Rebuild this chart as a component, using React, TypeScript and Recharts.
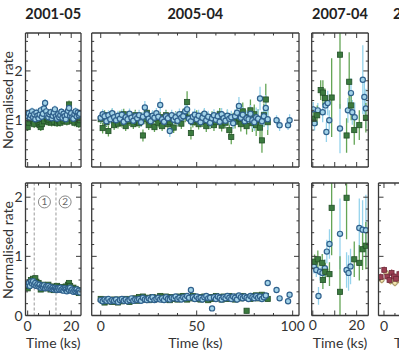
import React from "react";
import {
  ScatterChart,
  Scatter,
  XAxis,
  YAxis,
  ErrorBar,
  ReferenceLine,
  ReferenceDot,
} from "recharts";

// ---- titles / tick values ----
const titles = ["2001-05", "2005-04", "2007-04", "2008-10"];
const topYTicks = [0.2, 0.4, 0.6, 0.8, 1, 1.2, 1.4, 1.6, 1.8, 2, 2.2, 2.4, 2.6];
const botYTicks = [0, 0.2, 0.4, 0.6, 0.8, 1, 1.2, 1.4, 1.6, 1.8, 2, 2.2];
const yMajors = [0, 1, 2];
const shortXTicks = [0, 5, 10, 15, 20];
const shortXMajors = [0, 10, 20];
const shortXLabels = [0, 20];
const longXTicks = [0, 10, 20, 30, 40, 50, 60, 70, 80, 90, 100];
const longXMajors = [0, 50, 100];

// ---- 2001-05 (0.5 ks bins) ----
const p1Times = [
  0, 0.5, 1, 1.5, 2, 2.5, 3, 3.5, 4, 4.5, 5, 5.5, 6, 6.5, 7, 7.5, 8, 8.5, 9, 9.5, 10, 10.5, 11, 11.5, 12,
  12.5, 13, 13.5, 14, 14.5, 15, 15.5, 16, 16.5, 17, 17.5, 18, 18.5, 19, 19.5, 20, 20.5, 21, 21.5, 22, 22.5, 23, 23.5, 24,
];
const p1TopBlue = [
  1.08, 1.14, 1.05, 1.1, 1.18, 1.06, 1.12, 1.02, 1.15, 1.09, 1.04, 1.11, 1.2, 1.07, 1.13, 1.24, 1.35, 1.18, 1.1, 1.06,
  1.12, 1.16, 1.04, 1.09, 1.15, 1.22, 1.08, 1.03, 1.12, 1.06, 1.1, 1.17, 1.05, 1.13, 1.08, 1.02, 1.11, 1.19, 1.25, 1.09,
  1.14, 1.06, 1.03, 1.12, 1.18, 1.08, 1.15, 1.1, 1.13,
];
const p1TopGreen = [
  0.86, 0.95, 1.02, 1.08, 1.1, 0.98, 0.92, 1.05, 1.12, 1.0, 0.95, 0.9, 0.86, 0.92, 1.05, 0.98, 1.08, 1.15, 1.03, 0.96,
  1.0, 1.08, 0.95, 1.02, 0.97, 1.06, 1.1, 0.94, 1.02, 0.98, 0.95, 1.04, 1.1, 0.99, 1.05, 1.02, 0.97, 1.08, 1.32, 1.12,
  1.04, 0.98, 1.06, 0.95, 1.1, 1.02, 0.96, 0.92, 1.0,
];
const p1BotBlue = [
  0.52, 0.55, 0.5, 0.57, 0.54, 0.58, 0.52, 0.55, 0.5, 0.53, 0.49, 0.52, 0.47, 0.5, 0.48, 0.51, 0.46, 0.49, 0.47, 0.5,
  0.46, 0.48, 0.45, 0.47, 0.44, 0.47, 0.45, 0.43, 0.46, 0.44, 0.47, 0.43, 0.45, 0.42, 0.46, 0.44, 0.41, 0.45, 0.43, 0.47,
  0.42, 0.44, 0.4, 0.43, 0.41, 0.44, 0.4, 0.42, 0.39,
];
const p1BotGreen = [
  0.46, 0.5, 0.56, 0.6, 0.55, 0.62, 0.58, 0.63, 0.57, 0.53, 0.55, 0.5, 0.44, 0.48, 0.52, 0.47, 0.5, 0.46, 0.49, 0.52,
  0.47, 0.44, 0.49, 0.46, 0.43, 0.48, 0.45, 0.5, 0.44, 0.47, 0.45, 0.48, 0.43, 0.46, 0.44, 0.49, 0.47, 0.52, 0.55, 0.5,
  0.46, 0.43, 0.47, 0.42, 0.45, 0.4, 0.43, 0.38, 0.41,
];
const p1TopErr = 0.08;
const p1BotErr = 0.035;

// ---- 2005-04 (1 ks bins) ----
const p2Times = [
  0, 1, 2, 3, 4, 5, 6, 7, 8, 9, 10, 11, 12, 13, 14, 15, 16, 17, 18, 19, 20, 21, 22, 23, 24, 25, 26, 27, 28, 29,
  30, 31, 32, 33, 34, 35, 36, 37, 38, 39, 40, 41, 42, 43, 44, 45, 46, 47, 48, 49, 50, 51, 52, 53, 54, 55, 56, 57, 58, 59,
  60, 61, 62, 63, 64, 65, 66, 67, 68, 69, 70, 71, 72, 73, 74, 75, 76, 77, 78, 79, 80, 81, 82, 83, 84, 85, 86, 87,
];
const p2TopBlue = [
  1.05, 1.12, 1.08, 0.98, 1.1, 1.02, 1.14, 1.06, 1.0, 1.09, 1.03, 1.11, 0.97, 1.06, 1.02, 1.13, 1.05, 0.99, 1.08, 1.04,
  1.1, 0.96, 1.07, 1.26, 1.12, 1.03, 0.98, 1.09, 1.05, 1.14, 1.07, 1.31, 1.02, 0.97, 1.08, 1.04, 0.78, 1.1, 1.01, 1.06,
  0.99, 1.12, 1.05, 1.08, 1.18, 1.22, 1.03, 0.98, 1.07, 1.11, 1.02, 1.09, 0.96, 1.05, 1.13, 1.0, 1.07, 0.95, 1.04, 1.1,
  1.01, 1.08, 0.97, 1.12, 1.04, 0.99, 1.09, 1.03, 1.06, 0.94, 1.08, 1.15, 1.29, 1.05, 1.11, 0.98, 1.04, 1.02, 1.13, 1.0,
  0.96, 1.06, 1.03, 1.44, 0.98, 1.08, 1.25, 1.02,
];
const p2TopGreen = [
  1.02, 0.84, 1.1, 0.96, 0.78, 1.05, 1.12, 0.9, 1.0, 0.93, 1.08, 0.95, 1.12, 0.88, 1.04, 0.98, 1.06, 0.92, 1.1, 0.97,
  0.94, 1.05, 0.69, 1.02, 1.15, 0.9, 0.98, 1.08, 0.86, 1.03, 0.95, 1.06, 0.88, 1.0, 1.1, 0.92, 0.96, 1.04, 0.85, 1.07,
  0.98, 1.02, 0.93, 1.12, 1.08, 1.37, 1.05, 0.74, 0.96, 1.0, 1.08, 0.92, 1.03, 0.97, 1.1, 0.88, 1.02, 0.94, 1.06, 0.9,
  0.96, 1.04, 1.12, 0.89, 1.0, 0.95, 1.08, 0.8, 0.66, 1.02, 0.97, 1.1, 1.04, 0.92, 1.18, 0.98, 0.88, 1.06, 1.2, 0.94,
  1.12, 0.9, 1.0, 0.85, 0.59, 1.1, 1.42, 0.96,
];
const p2TopBlueErr = [
  0.1, 0.1, 0.09, 0.1, 0.1, 0.09, 0.11, 0.1, 0.1, 0.1, 0.1, 0.11, 0.1, 0.1, 0.09, 0.11, 0.1, 0.1, 0.1, 0.1,
  0.11, 0.1, 0.1, 0.13, 0.11, 0.1, 0.1, 0.11, 0.1, 0.11, 0.1, 0.14, 0.1, 0.1, 0.11, 0.1, 0.12, 0.11, 0.1, 0.11,
  0.1, 0.12, 0.11, 0.11, 0.13, 0.14, 0.11, 0.1, 0.11, 0.12, 0.11, 0.12, 0.11, 0.11, 0.12, 0.11, 0.12, 0.11, 0.12, 0.12,
  0.12, 0.12, 0.11, 0.13, 0.12, 0.12, 0.13, 0.12, 0.13, 0.12, 0.14, 0.15, 0.18, 0.14, 0.16, 0.15, 0.16, 0.15, 0.18, 0.17,
  0.18, 0.2, 0.19, 0.24, 0.2, 0.22, 0.26, 0.22,
];
const p2TopGreenErr = [
  0.1, 0.11, 0.1, 0.1, 0.11, 0.1, 0.11, 0.1, 0.1, 0.1, 0.11, 0.1, 0.11, 0.1, 0.1, 0.1, 0.11, 0.1, 0.11, 0.1,
  0.1, 0.11, 0.12, 0.1, 0.12, 0.1, 0.1, 0.11, 0.1, 0.1, 0.1, 0.11, 0.1, 0.1, 0.11, 0.1, 0.1, 0.11, 0.11, 0.11,
  0.11, 0.1, 0.11, 0.12, 0.12, 0.22, 0.12, 0.13, 0.11, 0.11, 0.12, 0.11, 0.12, 0.11, 0.12, 0.12, 0.11, 0.12, 0.12, 0.12,
  0.12, 0.12, 0.13, 0.12, 0.12, 0.12, 0.13, 0.14, 0.15, 0.13, 0.14, 0.15, 0.15, 0.15, 0.18, 0.16, 0.17, 0.18, 0.22, 0.18,
  0.2, 0.22, 0.22, 0.24, 0.25, 0.24, 0.32, 0.26,
];
const p2BotBlue = [
  0.26, 0.24, 0.27, 0.25, 0.28, 0.24, 0.26, 0.25, 0.27, 0.23, 0.26, 0.28, 0.25, 0.27, 0.24, 0.26, 0.29, 0.25, 0.27, 0.26,
  0.28, 0.25, 0.3, 0.27, 0.26, 0.29, 0.27, 0.31, 0.26, 0.28, 0.3, 0.27, 0.29, 0.26, 0.31, 0.28, 0.27, 0.3, 0.29, 0.32,
  0.28, 0.3, 0.27, 0.31, 0.29, 0.33, 0.3, 0.43, 0.31, 0.28, 0.32, 0.29, 0.3, 0.27, 0.31, 0.33, 0.29, 0.3, 0.12, 0.31,
  0.28, 0.32, 0.3, 0.27, 0.31, 0.29, 0.33, 0.3, 0.28, 0.32, 0.3, 0.27, 0.34, 0.31, 0.29, 0.32, 0.3, 0.28, 0.33, 0.31,
  0.29, 0.33, 0.3, 0.32, 0.28, 0.31, 0.34, 0.55,
];
const p2BotGreen = [
  0.28, 0.25, 0.22, 0.27, 0.24, 0.26, 0.23, 0.27, 0.25, 0.22, 0.27, 0.24, 0.26, 0.28, 0.25, 0.23, 0.27, 0.26, 0.29, 0.25,
  0.31, 0.28, 0.32, 0.27, 0.3, 0.26, 0.29, 0.31, 0.27, 0.3, 0.28, 0.33, 0.3, 0.27, 0.32, 0.29, 0.26, 0.31, 0.28, 0.3,
  0.27, 0.32, 0.29, 0.33, 0.3, 0.27, 0.31, 0.29, 0.33, 0.3, 0.28, 0.31, 0.27, 0.3, 0.32, 0.29, 0.26, 0.31, 0.28, 0.3,
  0.33, 0.29, 0.31, 0.27, 0.32, 0.3, 0.28, 0.33, 0.29, 0.31, 0.27, 0.32, 0.3, 0.29, 0.33, 0.31, 0.08, 0.3, 0.28, 0.33,
  0.3, 0.34, 0.29, 0.32, 0.35, 0.3, 0.33, 0.28,
];
const p2BotBlueErr = 0.035;
const p2BotGreenErr = 0.04;
// the few late bins after the gap
const p2LateTimes = [91.6, 93.2, 97.6, 98.4];
const p2LateTop = [1.0, 0.9, 0.9, 1.0];
const p2LateTopErr = [0.1, 0.12, 0.1, 0.12];
const p2LateBot = [0.43, 0.29, 0.24, 0.35];

// ---- 2007-04 ----
const p3TopGreenT = [0.3, 2.0, 3.6, 4.6, 5.5, 8.6, 12.4, 15.4, 16.6, 17.5, 18.9, 21.2, 24.2];
const p3TopGreenV = [1.03, 1.1, 1.61, 1.56, 1.45, 1.46, 2.33, 0.69, 1.78, 1.3, 0.8, 0.9, 1.05];
const p3TopGreenE = [0.15, 0.2, 0.2, 0.25, 0.2, 0.8, 1.1, 0.35, 0.6, 0.3, 0.3, 0.3, 0.3];
const p3TopBlueT = [0.2, 0.8, 2.3, 4.5, 5.8, 6.2, 6.8, 7.5, 12.4, 16.0, 17.4, 18.0, 19.1, 22.8, 23.5, 24.2];
const p3TopBlueV = [1.22, 0.94, 1.2, 1.16, 1.3, 0.76, 1.35, 1.0, 0.83, 1.2, 1.55, 1.16, 1.06, 1.82, 1.47, 1.24];
const p3TopBlueE = [0.15, 0.15, 0.15, 0.2, 0.2, 0.2, 0.25, 0.2, 0.5, 0.25, 0.3, 0.25, 0.3, 0.7, 0.35, 0.4];
const p3BotGreenT = [0.8, 2.3, 4.3, 4.6, 5.7, 7.6, 8.6, 12.4, 15.4, 18.9, 21.2, 22.7, 24.2];
const p3BotGreenV = [0.91, 0.95, 0.89, 0.6, 0.74, 0.7, 1.82, 0.4, 1.99, 0.95, 0.89, 1.12, 1.18];
const p3BotGreenE = [0.12, 0.15, 0.15, 0.15, 0.15, 0.2, 0.8, 0.6, 0.7, 0.3, 0.3, 0.35, 0.4];
const p3BotBlueT = [0.5, 1.6, 2.6, 3.3, 4.4, 5.5, 6.4, 7.6, 12.4, 15.4, 16.3, 17.2, 21.2, 22.7, 24.2];
const p3BotBlueV = [0.83, 0.77, 0.33, 0.74, 0.72, 0.8, 1.08, 1.21, 1.38, 0.77, 0.72, 0.83, 1.48, 1.45, 1.44];
const p3BotBlueE = [0.12, 0.12, 0.15, 0.15, 0.15, 0.15, 0.2, 0.25, 0.6, 0.3, 0.3, 0.3, 0.5, 0.5, 0.6];

// ---- 2008 (cut off at the right) ----
const p4RedT = [-1.5, 0.1, 1.5, 2.5, 3.5, 4.5, 5.5, 7.0];
const p4RedV = [0.65, 0.77, 0.66, 0.6, 0.72, 0.66, 0.62, 0.7];
const p4PaleT = [-1.0, 1.0, 3.0, 5.0, 6.5];
const p4PaleV = [0.6, 0.72, 0.58, 0.55, 0.6];
const p4Err = 0.06;

type Pt = { t: number; v: number; e: number };
const toPoints = (times: number[], vals: number[], errs: number | number[]): Pt[] =>
  times.map((t, i) => ({ t, v: vals[i], e: Array.isArray(errs) ? errs[i] : errs }));

const FONT = "Lato, 'DejaVu Sans', sans-serif";
const AXIS = "#3a3a3a";
const near = (list: number[], v: number) => list.some((m) => Math.abs(m - v) < 1e-6);

type Side = "bottom" | "top" | "left" | "right";

// inward ticks, matplotlib style
const makeTick = (side: Side, majors: number[], labels: number[]) => (props: any) => {
  const { x, y, payload } = props;
  const v = payload.value;
  const len = near(majors, v) ? 5 : 2.5;
  let line;
  if (side === "bottom") line = <line x1={x} x2={x} y1={y} y2={y - len} />;
  else if (side === "top") line = <line x1={x} x2={x} y1={y} y2={y + len} />;
  else if (side === "left") line = <line x1={x} x2={x + len} y1={y} y2={y} />;
  else line = <line x1={x} x2={x - len} y1={y} y2={y} />;
  const show = near(labels, v);
  return (
    <g stroke={AXIS} strokeWidth={1}>
      {line}
      {show && side === "bottom" && (
        <text x={x} y={y + 15} textAnchor="middle" fontFamily={FONT} fontSize={14} fill="#333" stroke="none">
          {v}
        </text>
      )}
      {show && side === "left" && (
        <text x={x - 3} y={y + 5} textAnchor="end" fontFamily={FONT} fontSize={14} fill="#333" stroke="none">
          {v}
        </text>
      )}
    </g>
  );
};

const blueDot = (p: any) => (
  <circle cx={p.cx} cy={p.cy} r={2.6} fill="#a3d3e8" stroke="#30618d" strokeWidth={1.2} />
);
const greenSquare = (p: any) => (
  <rect x={p.cx - 2.6} y={p.cy - 2.6} width={5.2} height={5.2} fill="#3b7a3e" stroke="#24502a" strokeWidth={0.8} />
);
const redSquare = (p: any) => (
  <rect x={p.cx - 2.4} y={p.cy - 2.4} width={4.8} height={4.8} fill="#9a3e52" stroke="#6e2838" strokeWidth={0.8} />
);
const paleDot = (p: any) => (
  <circle cx={p.cx} cy={p.cy} r={2.4} fill="#f4e6b0" stroke="#8a7a4a" strokeWidth={0.9} />
);

type Series = { data: Pt[]; shape: (p: any) => React.ReactElement; err: string };

type PanelProps = {
  left: number;
  right: number;
  top: number;
  bottom: number;
  xDomain: [number, number];
  yDomain: [number, number];
  xTicks: number[];
  xMajors: number[];
  xLabels: number[];
  yTicks: number[];
  yLabels: number[];
  series: Series[];
  extras?: React.ReactNode;
};

const CH = 352;

function Panel(p: PanelProps) {
  const W = p.right + 30;
  const margin = { left: p.left - 1, top: p.top - 1, right: W - p.right - 1, bottom: CH - p.bottom - 1 };
  const axes = (withTicks: boolean) => {
    const line = withTicks ? { stroke: AXIS, strokeWidth: 1.3 } : false;
    return [
      <XAxis
        key="xb"
        type="number"
        dataKey="t"
        domain={p.xDomain}
        allowDataOverflow
        ticks={p.xTicks}
        interval={0}
        height={1}
        tickSize={0}
        tickMargin={0}
        tickLine={false}
        axisLine={line}
        tick={withTicks ? makeTick("bottom", p.xMajors, p.xLabels) : false}
      />,
      <XAxis
        key="xt"
        xAxisId="top"
        orientation="top"
        type="number"
        dataKey="t"
        domain={p.xDomain}
        allowDataOverflow
        ticks={p.xTicks}
        interval={0}
        height={1}
        tickSize={0}
        tickMargin={0}
        tickLine={false}
        axisLine={line}
        tick={withTicks ? makeTick("top", p.xMajors, []) : false}
      />,
      <YAxis
        key="yl"
        type="number"
        dataKey="v"
        domain={p.yDomain}
        allowDataOverflow
        ticks={p.yTicks}
        interval={0}
        width={1}
        tickSize={0}
        tickMargin={0}
        tickLine={false}
        axisLine={line}
        tick={withTicks ? makeTick("left", yMajors, p.yLabels) : false}
      />,
      <YAxis
        key="yr"
        yAxisId="right"
        orientation="right"
        type="number"
        dataKey="v"
        domain={p.yDomain}
        allowDataOverflow
        ticks={p.yTicks}
        interval={0}
        width={1}
        tickSize={0}
        tickMargin={0}
        tickLine={false}
        axisLine={line}
        tick={withTicks ? makeTick("right", yMajors, []) : false}
      />,
    ];
  };
  const clip = `inset(${p.top}px ${W - p.right}px ${CH - p.bottom}px ${p.left}px)`;
  return (
    <>
      {/* data layer, clipped to the frame like matplotlib does */}
      <div style={{ position: "absolute", left: 0, top: 0, clipPath: clip }}>
        <ScatterChart width={W} height={CH} margin={margin}>
          {axes(false)}
          {p.extras}
          {p.series.map((s, i) => (
            <Scatter key={i} data={s.data} shape={s.shape} isAnimationActive={false}>
              <ErrorBar dataKey="e" direction="y" width={0} stroke={s.err} strokeWidth={1.3} />
            </Scatter>
          ))}
        </ScatterChart>
      </div>
      {/* frame and ticks */}
      <div style={{ position: "absolute", left: 0, top: 0 }}>
        <ScatterChart width={W} height={CH} margin={margin}>
          {axes(true)}
        </ScatterChart>
      </div>
    </>
  );
}

const GREEN_ERR = "#64a556";
const BLUE_ERR = "#96d3ec";

const ROW1 = { top: 33, bottom: 167 };
const ROW2 = { top: 183, bottom: 315.5 };
const COLS = [
  { left: 25.5, right: 81 },
  { left: 91.7, right: 299 },
  { left: 311.7, right: 368.3 },
  { left: 378.5, right: 464 },
];

const labelStyle: React.CSSProperties = {
  position: "absolute",
  fontFamily: FONT,
  fontSize: 14,
  color: "#333",
  whiteSpace: "nowrap",
  transform: "translateX(-50%)",
};

export default function App() {
  const topDomain: [number, number] = [0.05, 2.77];
  const botDomain: [number, number] = [0, 2.24];
  return (
    <div
      style={{
        position: "absolute",
        left: 0,
        top: 0,
        width: 399,
        height: 352,
        overflow: "hidden",
        background: "#fff",
      }}
    >
      {/* top row */}
      <Panel
        {...COLS[0]}
        {...ROW1}
        xDomain={[-1, 24.5]}
        yDomain={topDomain}
        xTicks={shortXTicks}
        xMajors={shortXMajors}
        xLabels={[]}
        yTicks={topYTicks}
        yLabels={[1, 2]}
        series={[
          { data: toPoints(p1Times, p1TopGreen, p1TopErr), shape: greenSquare, err: GREEN_ERR },
          { data: toPoints(p1Times, p1TopBlue, p1TopErr), shape: blueDot, err: BLUE_ERR },
        ]}
      />
      <Panel
        {...COLS[1]}
        {...ROW1}
        xDomain={[-4.7, 103.3]}
        yDomain={topDomain}
        xTicks={longXTicks}
        xMajors={longXMajors}
        xLabels={[]}
        yTicks={topYTicks}
        yLabels={[]}
        series={[
          { data: toPoints(p2Times, p2TopGreen, p2TopGreenErr), shape: greenSquare, err: GREEN_ERR },
          { data: toPoints(p2Times, p2TopBlue, p2TopBlueErr), shape: blueDot, err: BLUE_ERR },
          { data: toPoints(p2LateTimes, p2LateTop, p2LateTopErr), shape: blueDot, err: BLUE_ERR },
        ]}
      />
      <Panel
        {...COLS[2]}
        {...ROW1}
        xDomain={[-0.5, 25.3]}
        yDomain={topDomain}
        xTicks={shortXTicks}
        xMajors={shortXMajors}
        xLabels={[]}
        yTicks={topYTicks}
        yLabels={[]}
        series={[
          { data: toPoints(p3TopBlueT, p3TopBlueV, p3TopBlueE), shape: blueDot, err: BLUE_ERR },
          { data: toPoints(p3TopGreenT, p3TopGreenV, p3TopGreenE), shape: greenSquare, err: GREEN_ERR },
        ]}
      />

      {/* bottom row */}
      <Panel
        {...COLS[0]}
        {...ROW2}
        xDomain={[-1, 24.5]}
        yDomain={botDomain}
        xTicks={shortXTicks}
        xMajors={shortXMajors}
        xLabels={shortXLabels}
        yTicks={botYTicks}
        yLabels={[0, 1, 2]}
        extras={[
          <ReferenceLine key="a" x={3} stroke="#9a9a9a" strokeDasharray="3 2" />,
          <ReferenceLine key="b" x={13} stroke="#9a9a9a" strokeDasharray="3 2" />,
          <ReferenceDot key="c" x={7.7} y={1.92} r={6} fill="#fff" stroke="#888" label={{ value: "1", position: "center", fontSize: 10, fill: "#666", fontFamily: FONT }} />,
          <ReferenceDot key="d" x={17.2} y={1.92} r={6} fill="#fff" stroke="#888" label={{ value: "2", position: "center", fontSize: 10, fill: "#666", fontFamily: FONT }} />,
        ]}
        series={[
          { data: toPoints(p1Times, p1BotGreen, p1BotErr), shape: greenSquare, err: GREEN_ERR },
          { data: toPoints(p1Times, p1BotBlue, p1BotErr), shape: blueDot, err: BLUE_ERR },
        ]}
      />
      <Panel
        {...COLS[1]}
        {...ROW2}
        xDomain={[-4.7, 103.3]}
        yDomain={botDomain}
        xTicks={longXTicks}
        xMajors={longXMajors}
        xLabels={longXMajors}
        yTicks={botYTicks}
        yLabels={[]}
        series={[
          { data: toPoints(p2Times, p2BotGreen, p2BotGreenErr), shape: greenSquare, err: GREEN_ERR },
          { data: toPoints(p2Times, p2BotBlue, p2BotBlueErr), shape: blueDot, err: BLUE_ERR },
          { data: toPoints(p2LateTimes, p2LateBot, p2BotBlueErr), shape: blueDot, err: BLUE_ERR },
        ]}
      />
      <Panel
        {...COLS[2]}
        {...ROW2}
        xDomain={[-0.5, 25.3]}
        yDomain={botDomain}
        xTicks={shortXTicks}
        xMajors={shortXMajors}
        xLabels={shortXLabels}
        yTicks={botYTicks}
        yLabels={[]}
        series={[
          { data: toPoints(p3BotBlueT, p3BotBlueV, p3BotBlueE), shape: blueDot, err: BLUE_ERR },
          { data: toPoints(p3BotGreenT, p3BotGreenV, p3BotGreenE), shape: greenSquare, err: GREEN_ERR },
        ]}
      />
      <Panel
        {...COLS[3]}
        {...ROW2}
        xDomain={[-2.5, 36.5]}
        yDomain={botDomain}
        xTicks={[0, 5, 10, 15, 20, 25, 30, 35]}
        xMajors={[0, 10, 20, 30]}
        xLabels={[0, 20]}
        yTicks={botYTicks}
        yLabels={[]}
        series={[
          { data: toPoints(p4PaleT, p4PaleV, p4Err), shape: paleDot, err: "#e8c98a" },
          { data: toPoints(p4RedT, p4RedV, p4Err), shape: redSquare, err: "#c47a86" },
        ]}
      />

      {/* titles */}
      {titles.map((t, i) => (
        <div
          key={t}
          style={{
            ...labelStyle,
            left: i < 3 ? (COLS[i].left + COLS[i].right) / 2 : 421,
            top: 5,
            fontWeight: 700,
            fontSize: 14.5,
            color: "#222",
          }}
        >
          {t}
        </div>
      ))}

      {/* axis labels */}
      {COLS.map((c, i) => (
        <div key={i} style={{ ...labelStyle, left: (c.left + c.right) / 2, top: 334 }}>
          Time (ks)
        </div>
      ))}
      {[100, 250].map((cy) => (
        <div
          key={cy}
          style={{
            ...labelStyle,
            left: 7,
            top: cy,
            transform: "translate(-50%, -50%) rotate(-90deg)",
          }}
        >
          Normalised rate
        </div>
      ))}
    </div>
  );
}
